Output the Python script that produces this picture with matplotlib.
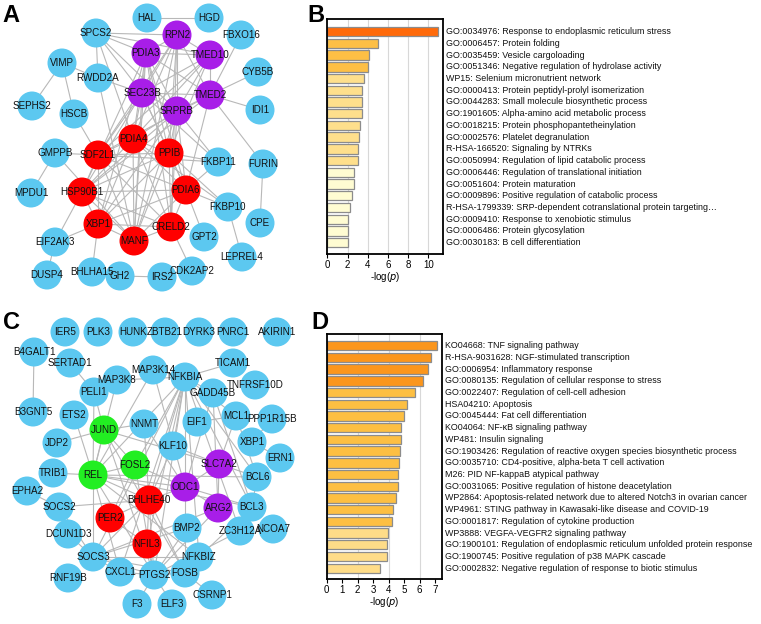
import matplotlib
matplotlib.use("Agg")
import matplotlib.pyplot as plt
from matplotlib.patches import Circle
import numpy as np

plt.rcParams['font.family'] = ['Liberation Sans', 'DejaVu Sans']

# ---------------- network A ----------------
# node name -> (x, y, group) ; layout (pixels)
net_a_nodes = {
    'HAL': (147, 18, 'b'), 'HGD': (209, 18, 'b'), 'SPCS2': (96, 33, 'b'),
    'RPN2': (177, 35, 'p'), 'FBXO16': (241, 35, 'b'), 'PDIA3': (146, 53, 'p'),
    'TMED10': (210, 55, 'p'), 'VIMP': (62, 63, 'b'), 'RWDD2A': (98, 78, 'b'),
    'CYB5B': (258, 72, 'b'), 'SEC23B': (142, 93, 'p'), 'TMED2': (210, 95, 'p'),
    'SEPHS2': (32, 106, 'b'), 'HSCB': (74, 114, 'b'), 'SRPRB': (177, 111, 'p'),
    'IDI1': (260, 110, 'b'), 'PDIA4': (133, 139, 'r'), 'GMPPB': (55, 153, 'b'),
    'SDF2L1': (98, 155, 'r'), 'PPIB': (169, 153, 'r'), 'FKBP11': (218, 162, 'b'),
    'FURIN': (263, 164, 'b'), 'MPDU1': (31, 193, 'b'), 'HSP90B1': (82, 192, 'r'),
    'PDIA6': (186, 190, 'r'), 'FKBP10': (228, 207, 'b'), 'CPE': (260, 223, 'b'),
    'XBP1': (98, 224, 'r'), 'CRELD2': (171, 227, 'r'), 'MANF': (134, 241, 'r'),
    'GPT2': (204, 237, 'b'), 'EIF2AK3': (55, 242, 'b'), 'LEPREL4': (242, 257, 'b'),
    'DUSP4': (47, 275, 'b'), 'BHLHA15': (92, 272, 'b'), 'GH2': (120, 276, 'b'),
    'IRS2': (162, 277, 'b'), 'CDK2AP2': (192, 271, 'b'),
}
net_a_red = ['PDIA4', 'SDF2L1', 'PPIB', 'HSP90B1', 'PDIA6', 'XBP1', 'MANF', 'CRELD2']
net_a_edges = [
    ('HAL', 'HGD'), ('SPCS2', 'RPN2'), ('SPCS2', 'RWDD2A'), ('SPCS2', 'PDIA3'),
    ('SPCS2', 'SEC23B'), ('SPCS2', 'SRPRB'), ('SPCS2', 'TMED10'), ('SPCS2', 'PDIA4'),
    ('VIMP', 'SEPHS2'), ('VIMP', 'RWDD2A'), ('VIMP', 'HSCB'), ('HSCB', 'SDF2L1'),
    ('RWDD2A', 'SEC23B'), ('RWDD2A', 'MANF'), ('FBXO16', 'TMED2'), ('CYB5B', 'TMED2'),
    ('IDI1', 'TMED2'), ('TMED2', 'FURIN'), ('FURIN', 'CPE'),
    ('RPN2', 'PDIA3'), ('RPN2', 'TMED10'), ('RPN2', 'SEC23B'), ('RPN2', 'TMED2'),
    ('RPN2', 'SRPRB'), ('RPN2', 'PPIB'), ('RPN2', 'PDIA4'), ('RPN2', 'MANF'),
    ('RPN2', 'SDF2L1'), ('RPN2', 'CRELD2'),
    ('PDIA3', 'TMED10'), ('PDIA3', 'SEC23B'), ('PDIA3', 'TMED2'), ('PDIA3', 'SRPRB'),
    ('PDIA3', 'PDIA4'), ('PDIA3', 'PPIB'), ('PDIA3', 'HSP90B1'), ('PDIA3', 'PDIA6'),
    ('PDIA3', 'MANF'), ('PDIA3', 'CRELD2'), ('PDIA3', 'XBP1'),
    ('TMED10', 'SEC23B'), ('TMED10', 'TMED2'), ('TMED10', 'SRPRB'), ('TMED10', 'SDF2L1'),
    ('TMED10', 'PDIA4'), ('TMED10', 'PPIB'),
    ('SEC23B', 'TMED2'), ('SEC23B', 'SRPRB'), ('SEC23B', 'PDIA4'), ('SEC23B', 'SDF2L1'),
    ('SEC23B', 'PPIB'), ('SEC23B', 'PDIA6'), ('SEC23B', 'HSP90B1'), ('SEC23B', 'MANF'),
    ('SEC23B', 'FKBP11'),
    ('TMED2', 'SRPRB'), ('TMED2', 'SDF2L1'), ('TMED2', 'PDIA6'), ('TMED2', 'HSP90B1'),
    ('SRPRB', 'PDIA4'), ('SRPRB', 'PPIB'), ('SRPRB', 'HSP90B1'), ('SRPRB', 'PDIA6'),
    ('SRPRB', 'MANF'), ('SRPRB', 'XBP1'), ('SRPRB', 'CRELD2'), ('SRPRB', 'FKBP11'),
    ('GMPPB', 'MPDU1'), ('GMPPB', 'SDF2L1'), ('GMPPB', 'MANF'),
    ('HSP90B1', 'EIF2AK3'), ('XBP1', 'EIF2AK3'), ('XBP1', 'BHLHA15'), ('DUSP4', 'EIF2AK3'),
    ('FKBP11', 'PPIB'), ('FKBP11', 'PDIA6'), ('FKBP11', 'SDF2L1'),
    ('FKBP10', 'PDIA6'), ('FKBP10', 'PPIB'), ('FKBP10', 'LEPREL4'), ('FKBP10', 'PDIA4'),
    ('GPT2', 'PDIA6'), ('CDK2AP2', 'CRELD2'), ('GH2', 'IRS2'),
]
for i, u in enumerate(net_a_red):
    for v in net_a_red[i + 1:]:
        net_a_edges.append((u, v))

# ---------------- network C ----------------
net_c_nodes = {
    'IER5': (65, 332, 'b'), 'PLK3': (98, 332, 'b'), 'HUNK': (133, 332, 'b'),
    'ZBTB21': (165, 332, 'b'), 'DYRK3': (199, 332, 'b'), 'PNRC1': (233, 332, 'b'),
    'AKIRIN1': (277, 332, 'b'), 'B4GALT1': (34, 352, 'b'), 'SERTAD1': (70, 363, 'b'),
    'MAP3K14': (153, 370, 'b'), 'TICAM1': (233, 363, 'b'), 'MAP3K8': (117, 380, 'b'),
    'NFKBIA': (185, 377, 'b'), 'TNFRSF10D': (255, 385, 'b'), 'PELI1': (94, 392, 'b'),
    'GADD45B': (213, 393, 'b'), 'B3GNT5': (33, 412, 'b'), 'ETS2': (74, 415, 'b'),
    'MCL1': (236, 416, 'b'), 'PPP1R15B': (272, 419, 'b'), 'JUND': (104, 430, 'g'),
    'NNMT': (144, 424, 'b'), 'EIF1': (197, 422, 'b'), 'JDP2': (57, 443, 'b'),
    'XBP1': (252, 442, 'b'), 'KLF10': (173, 446, 'b'), 'ERN1': (280, 458, 'b'),
    'FOSL2': (135, 465, 'g'), 'SLC7A2': (219, 464, 'p'), 'TRIB1': (53, 473, 'b'),
    'REL': (93, 475, 'g'), 'BCL6': (257, 477, 'b'), 'EPHA2': (27, 491, 'b'),
    'ODC1': (185, 487, 'p'), 'SOCS2': (59, 507, 'b'), 'BHLHE40': (149, 500, 'r'),
    'ARG2': (218, 508, 'p'), 'BCL3': (252, 507, 'b'), 'PER2': (110, 518, 'r'),
    'BMP2': (187, 528, 'b'), 'DCUN1D3': (68, 534, 'b'), 'ZC3H12A': (240, 531, 'b'),
    'NCOA7': (273, 529, 'b'), 'NFIL3': (147, 544, 'r'), 'SOCS3': (93, 557, 'b'),
    'NFKBIZ': (199, 557, 'b'), 'CXCL1': (120, 572, 'b'), 'PTGS2': (154, 575, 'b'),
    'FOSB': (185, 573, 'b'), 'RNF19B': (68, 578, 'b'), 'CSRNP1': (212, 595, 'b'),
    'F3': (137, 604, 'b'), 'ELF3': (172, 604, 'b'),
}
net_c_edges = [
    ('B4GALT1', 'B3GNT5'), ('SERTAD1', 'PELI1'), ('PELI1', 'REL'), ('PELI1', 'JUND'),
    ('MAP3K8', 'REL'), ('MAP3K8', 'NFKBIA'), ('MAP3K14', 'NFKBIA'), ('MAP3K14', 'REL'),
    ('MAP3K14', 'ODC1'), ('NFKBIA', 'REL'), ('NFKBIA', 'BHLHE40'), ('NFKBIA', 'NFIL3'),
    ('NFKBIA', 'FOSB'), ('NFKBIA', 'PTGS2'), ('NFKBIA', 'SOCS3'), ('NFKBIA', 'BCL3'),
    ('NFKBIA', 'ZC3H12A'), ('NFKBIA', 'NFKBIZ'), ('NFKBIA', 'GADD45B'), ('NFKBIA', 'BCL6'),
    ('NFKBIA', 'CXCL1'), ('NFKBIA', 'MCL1'), ('NFKBIA', 'FOSL2'), ('NFKBIA', 'KLF10'),
    ('TICAM1', 'NFKBIA'), ('ETS2', 'REL'), ('JDP2', 'JUND'), ('TRIB1', 'REL'),
    ('EPHA2', 'SOCS2'), ('SOCS2', 'BHLHE40'), ('SOCS2', 'DCUN1D3'), ('SOCS2', 'SOCS3'),
    ('JUND', 'REL'), ('JUND', 'FOSL2'), ('JUND', 'NNMT'), ('JUND', 'SLC7A2'),
    ('JUND', 'FOSB'), ('JUND', 'PTGS2'), ('REL', 'FOSL2'), ('REL', 'BHLHE40'),
    ('REL', 'SOCS3'), ('REL', 'NFKBIZ'), ('REL', 'BCL3'), ('REL', 'ODC1'), ('REL', 'CXCL1'),
    ('REL', 'PTGS2'), ('REL', 'BCL6'), ('FOSL2', 'ODC1'), ('FOSL2', 'PER2'), ('FOSL2', 'PTGS2'),
    ('NNMT', 'ODC1'), ('NNMT', 'PTGS2'), ('KLF10', 'SLC7A2'), ('KLF10', 'BHLHE40'),
    ('EIF1', 'MCL1'), ('GADD45B', 'BCL3'), ('GADD45B', 'ODC1'), ('GADD45B', 'ARG2'),
    ('MCL1', 'SLC7A2'), ('MCL1', 'BCL6'), ('XBP1', 'ERN1'), ('XBP1', 'PPP1R15B'),
    ('SLC7A2', 'ODC1'), ('SLC7A2', 'ARG2'), ('SLC7A2', 'BCL6'), ('ODC1', 'ARG2'),
    ('ODC1', 'BHLHE40'), ('ODC1', 'BCL3'), ('ARG2', 'PTGS2'), ('ARG2', 'SOCS3'),
    ('BHLHE40', 'PER2'), ('BHLHE40', 'NFIL3'), ('BHLHE40', 'FOSB'), ('BHLHE40', 'SOCS3'),
    ('PER2', 'NFIL3'), ('NFIL3', 'PTGS2'), ('BMP2', 'PTGS2'), ('BMP2', 'SOCS3'),
    ('ZC3H12A', 'PTGS2'), ('BCL6', 'BCL3'), ('BCL3', 'NFKBIZ'), ('SOCS3', 'CXCL1'),
    ('SOCS3', 'PTGS2'), ('SOCS3', 'FOSB'), ('SOCS3', 'NFKBIZ'), ('CXCL1', 'PTGS2'),
    ('PTGS2', 'FOSB'), ('PTGS2', 'F3'), ('PTGS2', 'ELF3'), ('FOSB', 'CSRNP1'),
    ('FOSB', 'NFKBIZ'), ('DCUN1D3', 'SOCS3'),
]

# ---------------- enrichment bars ----------------
b_terms = [
    'GO:0034976: Response to endoplasmic reticulum stress',
    'GO:0006457: Protein folding',
    'GO:0035459: Vesicle cargoloading',
    'GO:0051346: Negative regulation of hydrolase activity',
    'WP15: Selenium micronutrient network',
    'GO:0000413: Protein peptidyl-prolyl isomerization',
    'GO:0044283: Small molecule biosynthetic process',
    'GO:1901605: Alpha-amino acid metabolic process',
    'GO:0018215: Protein phosphopantetheinylation',
    'GO:0002576: Platelet degranulation',
    'R-HSA-166520: Signaling by NTRKs',
    'GO:0050994: Regulation of lipid catabolic process',
    'GO:0006446: Regulation of translational initiation',
    'GO:0051604: Protein maturation',
    'GO:0009896: Positive regulation of catabolic process',
    'R-HSA-1799339: SRP-dependent cotranslational protein targeting\u2026',
    'GO:0009410: Response to xenobiotic stimulus',
    'GO:0006486: Protein glycosylation',
    'GO:0030183: B cell differentiation',
]
b_values = [10.95, 4.98, 4.08, 4.0, 3.67, 3.47, 3.44, 3.41, 3.2, 3.13, 3.05, 3.05,
            2.68, 2.6, 2.48, 2.28, 2.08, 2.08, 2.02]
b_tier = [0, 1, 1, 1, 2, 2, 2, 2, 2, 2, 2, 2, 3, 3, 3, 3, 3, 3, 3]

d_terms = [
    'KO04668: TNF signaling pathway',
    'R-HSA-9031628: NGF-stimulated transcription',
    'GO:0006954: Inflammatory response',
    'GO:0080135: Regulation of cellular response to stress',
    'GO:0022407: Regulation of cell-cell adhesion',
    'HSA04210: Apoptosis',
    'GO:0045444: Fat cell differentiation',
    'KO04064: NF-\u03baB signaling pathway',
    'WP481: Insulin signaling',
    'GO:1903426: Regulation of reactive oxygen species biosynthetic process',
    'GO:0035710: CD4-positive, alpha-beta T cell activation',
    'M26: PID NF-kappaB atypical pathway',
    'GO:0031065: Positive regulation of histone deacetylation',
    'WP2864: Apoptosis-related network due to altered Notch3 in ovarian cancer',
    'WP4961: STING pathway in Kawasaki-like disease and COVID-19',
    'GO:0001817: Regulation of cytokine production',
    'WP3888: VEGFA-VEGFR2 signaling pathway',
    'GO:1900101: Regulation of endoplasmic reticulum unfolded protein response',
    'GO:1900745: Positive regulation of p38 MAPK cascade',
    'GO:0002832: Negative regulation of response to biotic stimulus',
]
d_values = [7.13, 6.72, 6.53, 6.23, 5.69, 5.17, 5.0, 4.78, 4.78, 4.72, 4.68, 4.63,
            4.63, 4.5, 4.27, 4.22, 3.97, 3.92, 3.92, 3.45]
d_tier = [0, 0, 0, 0, 1, 1, 1, 1, 1, 1, 1, 1, 1, 1, 1, 1, 2, 2, 2, 2]

node_colors = {'b': '#5cc8f0', 'r': '#ff0000', 'p': '#a81ee8', 'g': '#22ee22'}
b_colors = ['#ff6a0a', '#fdbf45', '#fedf8c', '#fffcd2']
d_colors = ['#fb961c', '#fdbf42', '#fedc88']

W, H = 761, 624
fig = plt.figure(figsize=(W / 100, H / 100), dpi=100)

# full-figure canvas in pixel units for the two networks
net_ax = fig.add_axes([0, 0, 1, 1])
net_ax.set_xlim(0, W)
net_ax.set_ylim(H, 0)
net_ax.axis('off')


def draw_network(ax, nodes, edges, r=14.5):
    for u, v in edges:
        x0, y0, _ = nodes[u]
        x1, y1, _ = nodes[v]
        ax.plot([x0, x1], [y0, y1], color='#b8b8b8', lw=0.8, zorder=1)
    for name, (x, y, g) in nodes.items():
        ax.add_patch(Circle((x, y), r, facecolor=node_colors[g], edgecolor='none', zorder=2))
        ax.text(x, y, name, ha='center', va='center', fontsize=7.1, color='#111111', zorder=3)


draw_network(net_ax, net_a_nodes, net_a_edges)
draw_network(net_ax, net_c_nodes, net_c_edges)


def draw_bars(rect, terms, values, tiers, colors, xmax, ticks, pad):
    ax = fig.add_axes(rect)
    y = np.arange(len(terms))
    ax.barh(y, values, height=0.8, color=[colors[t] for t in tiers],
            edgecolor='#8c8c8c', linewidth=0.9, zorder=2)
    ax.set_xlim(0, xmax)
    ax.set_ylim(len(terms) - 1 + pad[1], -pad[0])
    ax.set_yticks([])
    ax.set_xticks(ticks)
    ax.tick_params(axis='x', labelsize=7, length=3, width=0.8, pad=1.5)
    for t in ticks[1:]:
        if t % 2 == 0:
            ax.axvline(t, color='#d8d8d8', lw=0.8, zorder=1)
    for s in ax.spines.values():
        s.set_linewidth(1.3)
    ax.set_xlabel('-log($\\it{p}$)', fontsize=7, labelpad=0)
    for yi, term in zip(y, terms):
        ax.text(1.03, yi, term, transform=ax.get_yaxis_transform(), ha='left',
                va='center', fontsize=6.4, color='#111111')
    return ax


draw_bars([327.3 / W, (H - 254) / H, 115.7 / W, 235 / H], b_terms, b_values, b_tier,
          b_colors, 11.45, [0, 2, 4, 6, 8, 10], (1.08, 0.97))
draw_bars([326.7 / W, (H - 579) / H, 115.3 / W, 245 / H], d_terms, d_values, d_tier,
          d_colors, 7.45, [0, 1, 2, 3, 4, 5, 6, 7], (1.0, 0.92))

for letter, x, y in [('A', 2, 4), ('B', 307, 4), ('C', 3, 311), ('D', 311, 311)]:
    fig.text(x / W, 1 - y / H, letter, fontsize=17, fontweight='bold', ha='left', va='top')

fig.savefig('out.png', dpi=100)
